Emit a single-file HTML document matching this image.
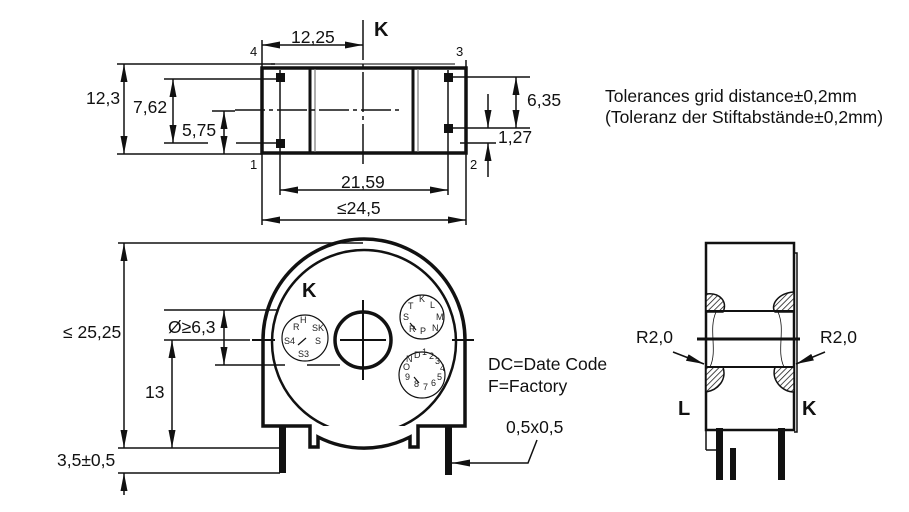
<!DOCTYPE html>
<html><head><meta charset="utf-8"><style>
html,body{margin:0;padding:0;background:#fff;}
svg{display:block;font-family:"Liberation Sans",Arial,sans-serif;}
</style></head><body>
<svg width="909" height="512" viewBox="0 0 909 512" xmlns="http://www.w3.org/2000/svg">
<defs>
<marker id="al" viewBox="0 0 10 10" refX="10" refY="5" markerWidth="18" markerHeight="10" markerUnits="userSpaceOnUse" orient="auto-start-reverse" preserveAspectRatio="none"><path d="M0,1.5 L10,5 L0,8.5z" fill="#111"/></marker>
<pattern id="h" width="4" height="4" patternUnits="userSpaceOnUse" patternTransform="rotate(45)"><rect width="4" height="4" fill="#fff"/><line x1="0" y1="0" x2="0" y2="4" stroke="#111" stroke-width="1.5"/></pattern>
<clipPath id="cb"><rect x="0" y="0" width="909" height="426"/></clipPath>
</defs>
<g stroke="#111" fill="none" font-size="15">
<!-- TOP VIEW -->
<line x1="271" y1="64" x2="455" y2="64" stroke-width="1.5" stroke="#555"/>
<rect x="262" y="68" width="204" height="85" stroke-width="3.5"/>
<line x1="310" y1="69" x2="310" y2="152" stroke-width="3"/><line x1="315" y1="69" x2="315" y2="152" stroke-width="1.2" stroke="#777"/>
<line x1="413" y1="69" x2="413" y2="152" stroke-width="3"/><line x1="418" y1="69" x2="418" y2="152" stroke-width="1.2" stroke="#777"/>
<g fill="#111" stroke="none"><rect x="276" y="73" width="9" height="9"/><rect x="276" y="139" width="9" height="9"/><rect x="444" y="73" width="9" height="9"/><rect x="444" y="124" width="9" height="9"/></g>
<g stroke-width="1.5">
<line x1="363" y1="20" x2="363" y2="165" stroke-dasharray="40,4,4,4"/>
<line x1="235" y1="110" x2="402" y2="110" stroke-dasharray="30,4,4,4"/>
<line x1="280" y1="70" x2="280" y2="195"/><line x1="448" y1="70" x2="448" y2="195"/>
<line x1="262" y1="40" x2="262" y2="225"/><line x1="466" y1="60" x2="466" y2="225"/>
<line x1="117" y1="64" x2="275" y2="64"/><line x1="117" y1="154" x2="262" y2="154"/>
<line x1="164" y1="79" x2="282" y2="79"/><line x1="164" y1="143" x2="208" y2="143"/><line x1="236" y1="143" x2="282" y2="143"/>
<line x1="212" y1="111" x2="235" y2="111"/>
<line x1="448" y1="77" x2="530" y2="77"/><line x1="448" y1="128" x2="530" y2="128"/><line x1="460" y1="143" x2="496" y2="143"/>
<line x1="124" y1="64" x2="124" y2="154" marker-start="url(#al)" marker-end="url(#al)"/>
<line x1="173" y1="79" x2="173" y2="143" marker-start="url(#al)" marker-end="url(#al)"/>
<line x1="224" y1="111" x2="224" y2="154" marker-start="url(#al)" marker-end="url(#al)"/>
<line x1="516" y1="77" x2="516" y2="128" marker-start="url(#al)" marker-end="url(#al)"/>
<line x1="488" y1="94" x2="488" y2="128" marker-end="url(#al)"/>
<line x1="488" y1="177" x2="488" y2="143" marker-end="url(#al)"/>
<line x1="262" y1="45" x2="363" y2="45" marker-start="url(#al)" marker-end="url(#al)"/>
<line x1="280" y1="190" x2="448" y2="190" marker-start="url(#al)" marker-end="url(#al)"/>
<line x1="262" y1="220" x2="466" y2="220" marker-start="url(#al)" marker-end="url(#al)"/>
</g>
<!-- BOTTOM VIEW -->
<path d="M263,340 A101,101 0 0 1 465,340 L465,426 L418,426 L418,447 L410,447 L410,437 A101,101 0 0 1 318,437 L318,447 L310,447 L310,426 L263,426 Z" stroke-width="3.5" fill="#fff"/>
<circle cx="364" cy="342" r="92" stroke-width="2.5" clip-path="url(#cb)"/>
<circle cx="363" cy="340" r="28" stroke-width="3.5"/>
<rect x="279" y="426" width="7" height="47" fill="#111" stroke="none"/>
<rect x="445" y="426" width="7" height="49" fill="#111" stroke="none"/>
<circle cx="305" cy="338" r="23" stroke-width="1.2"/>
<circle cx="422" cy="317" r="22" stroke-width="1.2"/>
<circle cx="422" cy="375" r="23" stroke-width="1.2"/>
<g stroke-width="2">
<line x1="363" y1="300" x2="363" y2="380"/><line x1="340" y1="340" x2="386" y2="340"/>
<line x1="252" y1="340" x2="275" y2="340"/><line x1="452" y1="340" x2="474" y2="340"/>
</g>
<g stroke-width="1.5">
<line x1="118" y1="243" x2="363" y2="243"/>
<line x1="164" y1="310" x2="278" y2="310"/><line x1="164" y1="340" x2="250" y2="340"/>
<line x1="215" y1="365" x2="285" y2="365"/><line x1="307" y1="365" x2="340" y2="365"/>
<line x1="118" y1="448" x2="280" y2="448"/><line x1="118" y1="473" x2="280" y2="473"/>
<line x1="124" y1="243" x2="124" y2="448" marker-start="url(#al)" marker-end="url(#al)"/>
<line x1="124" y1="495" x2="124" y2="473" marker-end="url(#al)"/>
<line x1="172" y1="340" x2="172" y2="448" marker-start="url(#al)" marker-end="url(#al)"/>
<line x1="224" y1="310" x2="224" y2="365" marker-start="url(#al)" marker-end="url(#al)"/>
<polyline points="537,440 528,463 452,463" marker-end="url(#al)"/>
</g>
<g stroke="none" fill="#222" font-size="9">
<text x="293" y="330">R</text><text x="300" y="323">H</text><text x="312" y="331">SK</text><text x="284" y="344">S4</text><text x="315" y="344">S</text><text x="298" y="357">S3</text>
<text x="408" y="309">T</text><text x="419" y="302">K</text><text x="430" y="308">L</text><text x="403" y="320">S</text><text x="436" y="320">M</text><text x="409" y="332">R</text><text x="420" y="334">P</text><text x="432" y="331">N</text>
<text x="414" y="358">D</text><text x="422" y="355">1</text><text x="429" y="359">2</text><text x="435" y="364">3</text><text x="440" y="371">4</text><text x="437" y="380">5</text><text x="431" y="386">6</text><text x="423" y="390">7</text><text x="414" y="387">8</text><text x="405" y="380">9</text><text x="403" y="370">O</text><text x="406" y="362">N</text>
</g>
<g stroke-width="1.2"><line x1="298" y1="345" x2="306" y2="338"/><line x1="416" y1="330" x2="410" y2="323"/><line x1="419" y1="383" x2="414" y2="377"/></g>
<!-- SIDE VIEW -->
<rect x="706" y="243" width="88" height="187" stroke-width="2.5"/>
<polyline points="794,253 797,253 797,432 794,432" stroke-width="1.5"/>
<path d="M706,294 C720,292 728,302 723,312 L706,312Z" fill="url(#h)" stroke-width="1.5"/>
<path d="M794,292 C778,293 770,305 775,312 L794,312Z" fill="url(#h)" stroke-width="1.5"/>
<path d="M706,367 L723,367 C727,380 718,390 706,392Z" fill="url(#h)" stroke-width="1.5"/>
<path d="M794,367 L775,367 C771,380 782,392 794,392Z" fill="url(#h)" stroke-width="1.5"/>
<line x1="706" y1="311" x2="794" y2="311" stroke-width="2"/>
<line x1="706" y1="367" x2="794" y2="367" stroke-width="2"/>
<line x1="697" y1="339" x2="800" y2="339" stroke-width="3"/>
<path d="M716,312 C708,330 718,350 710,367" stroke-width="0.8"/><path d="M778,312 C786,330 776,350 784,367" stroke-width="0.8"/>
<line x1="706" y1="428" x2="706" y2="450" stroke-width="1.5"/><line x1="706" y1="450" x2="716" y2="450" stroke-width="1.5"/>
<g fill="#111" stroke="none"><rect x="716" y="428" width="7" height="52"/><rect x="730" y="448" width="6" height="32"/><rect x="778" y="428" width="7" height="52"/></g>
<line x1="673" y1="352" x2="704" y2="364" stroke-width="1.5" marker-end="url(#al)"/>
<line x1="825" y1="352" x2="796" y2="364" stroke-width="1.5" marker-end="url(#al)"/>
</g>
<g fill="#111" font-size="17.5">
<text x="291" y="43">12,25</text>
<text x="374" y="36" font-size="20" font-weight="bold">K</text>
<text x="250" y="56" font-size="13">4</text><text x="456" y="56" font-size="13">3</text>
<text x="250" y="169" font-size="13">1</text><text x="470" y="169" font-size="13">2</text>
<text x="86" y="104">12,3</text><text x="133" y="113">7,62</text><text x="182" y="136">5,75</text>
<text x="527" y="106">6,35</text><text x="498" y="143">1,27</text>
<text x="341" y="188">21,59</text><text x="337" y="214">≤24,5</text>
<text x="605" y="102">Tolerances grid distance±0,2mm</text>
<text x="605" y="123">(Toleranz der Stiftabstände±0,2mm)</text>
<text x="302" y="297" font-size="20" font-weight="bold">K</text>
<text x="63" y="338">≤ 25,25</text>
<text x="168" y="333">Ø≥6,3</text>
<text x="145" y="398">13</text>
<text x="57" y="466">3,5±0,5</text>
<text x="488" y="370">DC=Date Code</text>
<text x="488" y="392">F=Factory</text>
<text x="506" y="433">0,5x0,5</text>
<text x="636" y="343">R2,0</text><text x="820" y="343">R2,0</text>
<text x="678" y="415" font-size="20" font-weight="bold">L</text>
<text x="802" y="415" font-size="20" font-weight="bold">K</text>
</g>
</svg>
</body></html>
